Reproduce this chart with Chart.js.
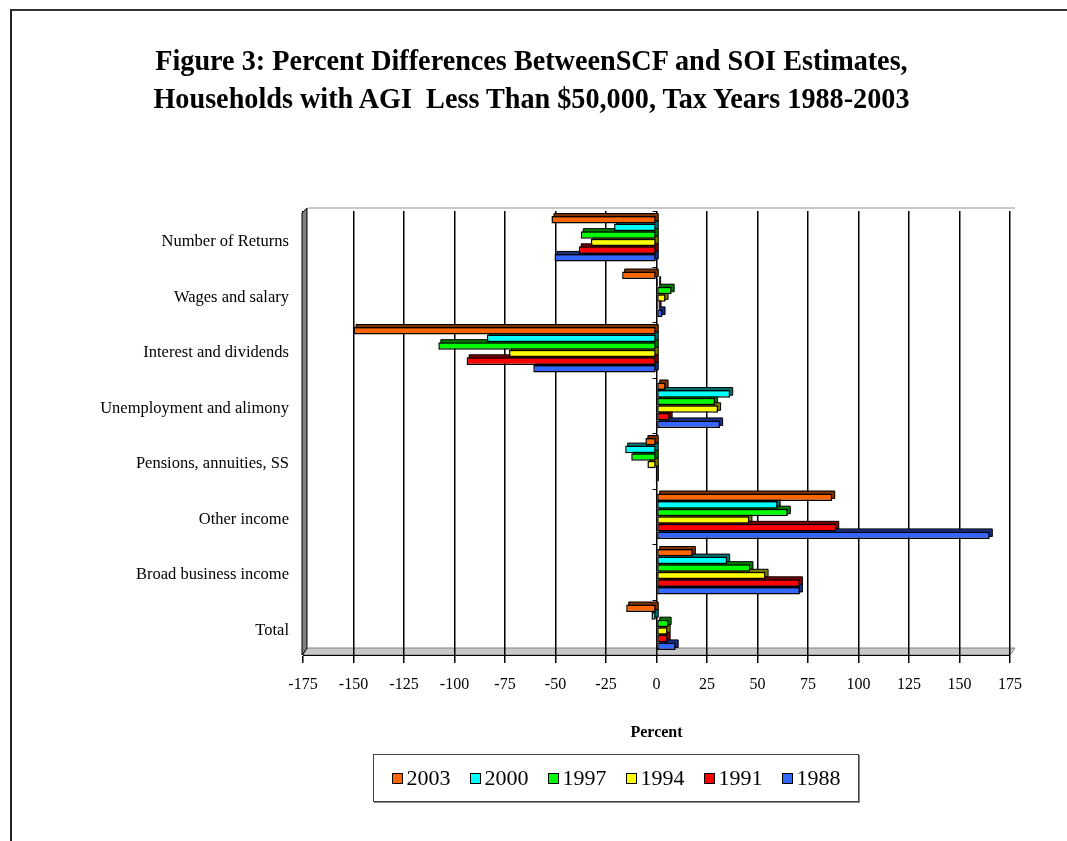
<!DOCTYPE html>
<html>
<head>
<meta charset="utf-8">
<script src="https://cdn.jsdelivr.net/npm/chart.js@4/dist/chart.umd.min.js"></script>
<style>
  html, body { margin: 0; padding: 0; background: #fff; }
  #page { position: relative; width: 1067px; height: 841px; overflow: hidden; background: #fff; }
  #frame { position: absolute; left: 10px; top: 9px; width: 1100px; height: 900px; border-left: 2px solid #222; border-top: 2px solid #333; }
  #chart { position: absolute; left: 0; top: 0; }
  .title { position: absolute; left: -2px; width: 1067px; text-align: center; font-family: "Liberation Serif", "Times New Roman", serif; font-weight: bold; font-size: 30px; line-height: 38px; color: #000; white-space: pre; transform: scaleX(0.94); transform-origin: 533px 0; }
  #legend { position: absolute; left: 373px; top: 754px; width: 484px; height: 46px; border: 1px solid #444; box-shadow: 1px 1px 0 #888; display: flex; align-items: center; justify-content: center; gap: 19px; font-family: "Liberation Serif", "Times New Roman", serif; font-size: 22px; color: #000; }
  .item { display: flex; align-items: center; }
  .sw { width: 9px; height: 9px; border: 1.5px solid #000; margin-right: 4px; }
</style>
</head>
<body>
<div id="page">
  <div id="frame"></div>
  <canvas id="chart" width="1067" height="841"></canvas>
  <div class="title" id="t1" style="top:41px"></div>
  <div class="title" id="t2" style="top:79px"></div>
  <div id="legend"></div>
</div>
<script>
// Categories (top to bottom) and series, one array per tax year
const categories = [
  'Number of Returns',
  'Wages and salary',
  'Interest and dividends',
  'Unemployment and alimony',
  'Pensions, annuities, SS',
  'Other income',
  'Broad business income',
  'Total'
];
const years = ['2003', '2000', '1997', '1994', '1991', '1988'];
const v2003 = [-52, -17, -150, 4.5, -5.5, 87, 18, -15];
const v2000 = [-21, 0.8, -84, 36.5, -15.5, 60, 35, -2.5];
const v1997 = [-37.5, 7.5, -108, 29, -12.5, 65, 46.5, 6];
const v1994 = [-32.5, 4.5, -73, 30.5, -4.5, 46, 54, 5.5];
const v1991 = [-38.5, 1, -94, 6.5, -0.5, 89, 71, 5.5];
const v1988 = [-50.5, 3, -61, 31.5, -0.5, 165, 71, 9.5];
const xTicksMin = -175, xTicksMax = 175, xTickStep = 25;

const titleLines = [
  'Figure 3: Percent Differences BetweenSCF and SOI Estimates,',
  'Households with AGI  Less Than $50,000, Tax Years 1988-2003'
];
const axisTitle = 'Percent';

const seriesValues = [v2003, v2000, v1997, v1994, v1991, v1988];
const fills = ['#FF6600', '#00FFFF', '#00FF00', '#FFFF00', '#FF0000', '#3366FF'];
const sides = ['#7a3000', '#007070', '#007a00', '#7a7a00', '#7a0000', '#1a2f80'];

document.getElementById('t1').textContent = titleLines[0];
document.getElementById('t2').textContent = titleLines[1];

// Legend
const legendEl = document.getElementById('legend');
years.forEach((y, i) => {
  const it = document.createElement('div');
  it.className = 'item';
  const sw = document.createElement('div');
  sw.className = 'sw';
  sw.style.background = fills[i];
  const tx = document.createElement('span');
  tx.textContent = y;
  it.appendChild(sw);
  it.appendChild(tx);
  legendEl.appendChild(it);
});

const serif = '"Liberation Serif", "Times New Roman", serif';

// Back wall, left wall and floor of the 3-D plot box
const wallPlugin = {
  id: 'wall3d',
  beforeDraw(chart) {
    const { ctx, chartArea: a } = chart;
    const d = 5;
    ctx.save();
    // top edge of the back wall
    ctx.strokeStyle = '#c8c8c8';
    ctx.lineWidth = 2;
    ctx.beginPath();
    ctx.moveTo(a.left + d, a.top - 3);
    ctx.lineTo(a.right + d, a.top - 3);
    ctx.stroke();
    // floor
    ctx.fillStyle = '#c8c8c8';
    ctx.strokeStyle = '#808080';
    ctx.lineWidth = 1;
    ctx.beginPath();
    ctx.moveTo(a.left, a.bottom);
    ctx.lineTo(a.right, a.bottom);
    ctx.lineTo(a.right + d, a.bottom - 7);
    ctx.lineTo(a.left + d, a.bottom - 7);
    ctx.closePath();
    ctx.fill();
    ctx.stroke();
    ctx.restore();
  },
  beforeDatasetsDraw(chart) {
    const { ctx, chartArea: a } = chart;
    const d = 5;
    ctx.save();
    // left wall
    ctx.fillStyle = '#808080';
    ctx.strokeStyle = '#000';
    ctx.lineWidth = 1;
    ctx.beginPath();
    ctx.moveTo(a.left - 1, a.bottom);
    ctx.lineTo(a.left - 1, a.top + 2);
    ctx.lineTo(a.left + d - 1, a.top - 3);
    ctx.lineTo(a.left + d - 1, a.bottom - 7);
    ctx.closePath();
    ctx.fill();
    ctx.stroke();
    // category axis at zero with short ticks between categories
    const xs = chart.scales.x;
    const zx = Math.round(xs.getPixelForValue(0)) - 0.5;
    ctx.strokeStyle = '#000';
    ctx.beginPath();
    ctx.moveTo(zx, a.top);
    ctx.lineTo(zx, a.bottom);
    const step = (a.bottom - a.top) / categories.length;
    for (let i = 0; i <= categories.length; i++) {
      const yy = Math.round(a.top + i * step) + 0.5;
      ctx.moveTo(zx - 4, yy);
      ctx.lineTo(zx, yy);
    }
    ctx.stroke();
    // extruded depth of each bar
    const dd = 2.5;
    chart.data.datasets.forEach((ds, di) => {
      const meta = chart.getDatasetMeta(di);
      meta.data.forEach(el => {
        const p = el.getProps(['x', 'y', 'base', 'height'], true);
        const x0 = Math.min(p.x, p.base), x1 = Math.max(p.x, p.base);
        const top = p.y - p.height / 2;
        ctx.fillStyle = sides[di];
        ctx.strokeStyle = '#000';
        ctx.lineWidth = 1;
        ctx.beginPath();
        ctx.rect(x0 + dd, top - dd, x1 - x0, p.height);
        ctx.fill();
        ctx.stroke();
      });
    });
    ctx.restore();
  }
};

new Chart(document.getElementById('chart'), {
  type: 'bar',
  data: {
    labels: categories,
    datasets: years.map((y, i) => ({
      label: y,
      data: seriesValues[i],
      backgroundColor: fills[i],
      borderColor: '#000',
      borderWidth: 1.5,
      borderSkipped: false,
      categoryPercentage: 0.82,
      barPercentage: 1.0
    }))
  },
  options: {
    indexAxis: 'y',
    responsive: false,
    animation: false,
    devicePixelRatio: 1,
    layout: { padding: { top: 211, left: 0, right: 57, bottom: 99 } },
    plugins: {
      legend: { display: false },
      title: { display: false },
      tooltip: { enabled: false }
    },
    scales: {
      y: {
        type: 'category',
        position: 'left',
        afterFit(s) { s.width = 303; },
        grid: { display: false },
        border: { display: false },
        ticks: { color: '#000', padding: 6, labelOffset: 3, font: { family: serif, size: 16.5 } }
      },
      x: {
        type: 'linear',
        min: xTicksMin,
        max: xTicksMax,
        afterFit(s) { s.height = 87; },
        grid: { color: '#000', lineWidth: 1.5, tickLength: 8, tickColor: '#000' },
        border: { display: true, color: '#000', width: 1 },
        ticks: {
          stepSize: xTickStep,
          color: '#000',
          padding: 12,
          maxRotation: 0,
          autoSkip: false,
          font: { family: serif, size: 16 }
        },
        title: {
          display: true,
          text: axisTitle,
          color: '#000',
          padding: { top: 0, bottom: 0 },
          font: { family: serif, size: 16, weight: 'bold' }
        }
      }
    }
  },
  plugins: [wallPlugin]
});
</script>
</body>
</html>
